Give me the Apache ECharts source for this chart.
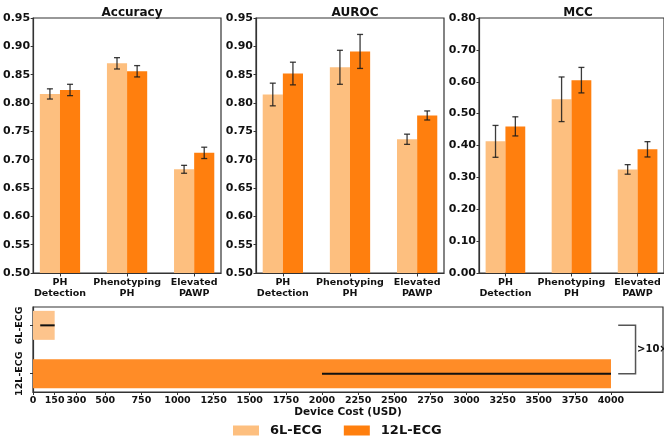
<!DOCTYPE html>
<html>
<head>
<meta charset="utf-8">
<script src="https://cdn.jsdelivr.net/npm/echarts@6/dist/echarts.min.js"></script>
<style>
html,body{margin:0;padding:0;background:#fff;}
#chart{width:664px;height:439px;}
</style>
</head>
<body>
<div id="chart"></div>
<script>
// ---- data ----
const categories = ['PH\nDetection', 'Phenotyping\nPH', 'Elevated\nPAWP'];
const seriesNames = ['6L-ECG', '12L-ECG'];

const acc6 = [0.816, 0.870, 0.683];
const acc6Err = [0.009, 0.010, 0.007];
const acc12 = [0.823, 0.856, 0.712];
const acc12Err = [0.010, 0.010, 0.010];

const auc6 = [0.815, 0.863, 0.736];
const auc6Err = [0.020, 0.030, 0.009];
const auc12 = [0.852, 0.891, 0.778];
const auc12Err = [0.020, 0.030, 0.008];

const mcc6 = [0.413, 0.545, 0.325];
const mcc6Err = [0.050, 0.070, 0.015];
const mcc12 = [0.460, 0.605, 0.388];
const mcc12Err = [0.030, 0.040, 0.024];

const devices = ['6L-ECG', '12L-ECG'];
const costHigh = [150, 4000];
const costLow = [50, 2000];
const costTicks = [0, 150, 300, 500, 750, 1000, 1250, 1500, 1750, 2000, 2250, 2500, 2750, 3000, 3250, 3500, 3750, 4000];
const ratioLabel = '>10\u00d7';

const panelTitles = ['Accuracy', 'AUROC', 'MCC'];
const accTicks = [0.50, 0.95, 0.05];
const mccTicks = [0.00, 0.80, 0.10];

// ---- style ----
const LIGHT = '#FDBF7F';
const DARK = '#FF7F0E';
const LIGHT2 = '#FDC48C';
const DARK2 = '#FF8C27';
const AX = '#333';
const FONT = 'DejaVu Sans';
const BAR_W = 0.3;

const panels = [
  {title: panelTitles[0], a: acc6, ae: acc6Err, b: acc12, be: acc12Err, yr: accTicks, left: 33},
  {title: panelTitles[1], a: auc6, ae: auc6Err, b: auc12, be: auc12Err, yr: accTicks, left: 256},
  {title: panelTitles[2], a: mcc6, ae: mcc6Err, b: mcc12, be: mcc12Err, yr: mccTicks, left: 479}
];

const grids = [], xAxes = [], yAxes = [], series = [], titles = [];
const lbl = {fontFamily: FONT, fontWeight: 'bold', fontSize: 10, color: '#111'};

function barRender(params, api) {
  const x = api.value(0), v = api.value(1), off = api.value(2);
  const cs = params.coordSys;
  const p0 = api.coord([x + off - BAR_W / 2, v]);
  const p1 = api.coord([x + off + BAR_W / 2, v]);
  const bottom = cs.y + cs.height;
  return {
    type: 'rect',
    shape: {x: p0[0], y: p0[1], width: p1[0] - p0[0], height: bottom - p0[1]},
    style: {fill: api.visual('color')}
  };
}
function errRender(params, api) {
  const x = api.value(0) + api.value(3), v = api.value(1), e = api.value(2);
  const top = api.coord([x, v + e]);
  const bot = api.coord([x, v - e]);
  const cap = 3;
  const st = {stroke: '#1a1a1a', lineWidth: 1.3, opacity: 0.85};
  return {
    type: 'group',
    children: [
      {type: 'line', shape: {x1: top[0], y1: top[1], x2: bot[0], y2: bot[1]}, style: st},
      {type: 'line', shape: {x1: top[0] - cap, y1: top[1], x2: top[0] + cap, y2: top[1]}, style: st},
      {type: 'line', shape: {x1: bot[0] - cap, y1: bot[1], x2: bot[0] + cap, y2: bot[1]}, style: st}
    ]
  };
}

panels.forEach((p, i) => {
  grids.push({left: p.left, top: 18, width: 188, height: 255, show: true, borderColor: AX, borderWidth: 1.2, backgroundColor: 'transparent'});
  xAxes.push({
    type: 'value', gridIndex: i, min: -0.4, max: 2.4,
    axisLine: {show: true, onZero: false, lineStyle: {color: AX, width: 1.2}},
    axisTick: {show: true, customValues: [0, 1, 2], length: 3.5, lineStyle: {color: AX}},
    splitLine: {show: false},
    axisLabel: Object.assign({}, lbl, {customValues: [0, 1, 2], fontSize: 9.5, lineHeight: 11, margin: 4,
      hideOverlap: false, showMinLabel: true, showMaxLabel: true,
      formatter: v => categories[Math.round(v)]})
  });
  yAxes.push({
    type: 'value', gridIndex: i, min: p.yr[0], max: p.yr[1], interval: p.yr[2],
    axisLine: {show: true, onZero: false, lineStyle: {color: AX, width: 1.2}},
    axisTick: {show: true, length: 2.5, lineStyle: {color: AX}},
    splitLine: {show: false},
    axisLabel: Object.assign({}, lbl, {fontSize: 11, margin: 3, formatter: v => v.toFixed(2)})
  });
  titles.push({text: p.title, left: p.left + 94, top: 2, textAlign: 'center',
    textStyle: {fontFamily: FONT, fontWeight: 'bold', fontSize: 12, color: '#111'}});
  const dA = p.a.map((v, k) => [k, v, -BAR_W / 2]);
  const dB = p.b.map((v, k) => [k, v, BAR_W / 2]);
  series.push({type: 'custom', name: seriesNames[0], xAxisIndex: i, yAxisIndex: i, renderItem: barRender, itemStyle: {color: LIGHT}, data: dA, clip: true, z: 2});
  series.push({type: 'custom', name: seriesNames[1], xAxisIndex: i, yAxisIndex: i, renderItem: barRender, itemStyle: {color: DARK}, data: dB, clip: true, z: 2});
  series.push({type: 'custom', xAxisIndex: i, yAxisIndex: i, renderItem: errRender, z: 3,
    data: p.a.map((v, k) => [k, v, p.ae[k], -BAR_W / 2]).concat(p.b.map((v, k) => [k, v, p.be[k], BAR_W / 2]))});
});

// bottom cost chart
grids.push({left: 33, top: 307, width: 630, height: 85, show: true, borderColor: AX, borderWidth: 1.2, backgroundColor: 'transparent'});
xAxes.push({
  type: 'value', gridIndex: 3, min: 0, max: 4360,
  name: 'Device Cost (USD)', nameLocation: 'middle', nameGap: 14,
  nameTextStyle: {fontFamily: FONT, fontWeight: 'bold', fontSize: 10.5, color: '#111'},
  axisLine: {show: true, onZero: false, lineStyle: {color: AX, width: 1.2}},
  axisTick: {show: true, customValues: costTicks, length: 3, lineStyle: {color: AX}},
  splitLine: {show: false},
  axisLabel: Object.assign({}, lbl, {customValues: costTicks, margin: 4, fontSize: 9.5, hideOverlap: false,
    formatter: v => String(v)})
});
yAxes.push({
  type: 'value', gridIndex: 3, min: -0.38, max: 1.38, inverse: true,
  axisLine: {show: true, onZero: false, lineStyle: {color: AX, width: 1.2}},
  axisTick: {show: true, customValues: [0, 1], length: 3, lineStyle: {color: AX}},
  splitLine: {show: false},
  axisLabel: Object.assign({}, lbl, {customValues: [0, 1], rotate: 90, margin: 8, fontSize: 9.5, formatter: v => devices[Math.round(v)]})
});
const devColors = [LIGHT2, DARK2];
series.push({
  type: 'custom', xAxisIndex: 3, yAxisIndex: 3, z: 2,
  data: costHigh.map((v, k) => [k, v, costLow[k]]),
  renderItem: function (params, api) {
    const k = api.value(0), hi = api.value(1), lo = api.value(2);
    const p0 = api.coord([0, k - 0.3]);
    const p1 = api.coord([hi, k + 0.3]);
    const e0 = api.coord([lo, k]);
    const e1 = api.coord([hi, k]);
    return {type: 'group', children: [
      {type: 'rect', shape: {x: p0[0], y: p0[1], width: p1[0] - p0[0], height: p1[1] - p0[1]}, style: {fill: devColors[k]}},
      {type: 'line', shape: {x1: e0[0], y1: e0[1], x2: e1[0], y2: e1[1]}, style: {stroke: '#111', lineWidth: 2}}
    ]};
  }
});
// bracket annotation
series.push({
  type: 'custom', xAxisIndex: 3, yAxisIndex: 3, z: 4, clip: false,
  data: [[4050, 4170, 0, 1]],
  renderItem: function (params, api) {
    const a = api.coord([api.value(0), api.value(2)]);
    const b = api.coord([api.value(1), api.value(2)]);
    const c = api.coord([api.value(1), api.value(3)]);
    const d = api.coord([api.value(0), api.value(3)]);
    return {type: 'group', children: [
      {type: 'polyline', shape: {points: [a, b, c, d]}, style: {stroke: '#555', lineWidth: 1.5, fill: null}},
      {type: 'text', x: b[0] + 1.5, y: (b[1] + c[1]) / 2, style: {text: ratioLabel, fontFamily: FONT, fontWeight: 'bold', fontSize: 10, fill: '#111', verticalAlign: 'middle', align: 'left'}}
    ]};
  }
});

const chart = echarts.init(document.getElementById('chart'), null, {renderer: 'canvas'});
chart.setOption({
  animation: false,
  backgroundColor: '#fff',
  title: titles,
  grid: grids,
  xAxis: xAxes,
  yAxis: yAxes,
  legend: {
    data: [{name: seriesNames[0], itemStyle: {color: LIGHT}}, {name: seriesNames[1], itemStyle: {color: DARK}}],
    left: 228, top: 419, icon: 'rect', itemWidth: 26, itemHeight: 10, itemGap: 22,
    textStyle: {fontFamily: FONT, fontWeight: 'bold', fontSize: 13, color: '#111', padding: [0, 0, 0, 6]},
    selectedMode: false
  },
  series: series
});
</script>
</body>
</html>
